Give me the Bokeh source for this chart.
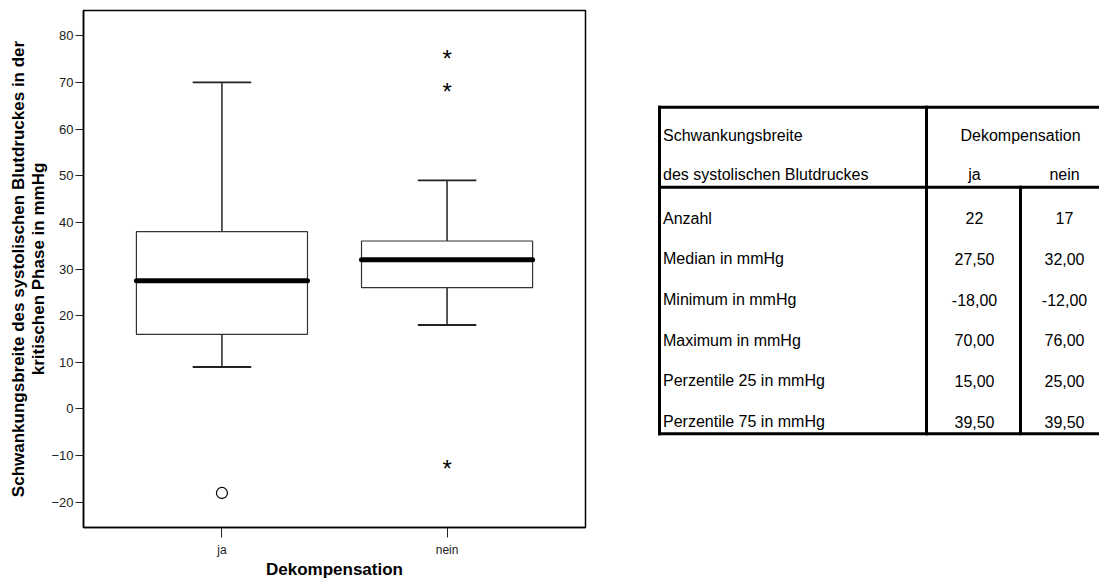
from bokeh.plotting import figure
from bokeh.layouts import row
from bokeh.models import Range1d, FactorRange, FixedTicker, ColumnDataSource
from bokeh.transform import dodge
from bokeh.core.properties import value
from bokeh.embed import file_html
from bokeh.resources import INLINE

# ---------------- data ----------------
categories = ["ja", "nein"]
q1 = [16, 26]
median = [27.5, 32]
q3 = [38, 36]
whisker_low = [9, 18]
whisker_high = [70, 49]
ja_outliers = [-18]            # circles
nein_extremes = [76, 69, -12]  # stars
y_ticks = [-20, -10, 0, 10, 20, 30, 40, 50, 60, 70, 80]

table_header_left = ["Schwankungsbreite", "des systolischen Blutdruckes"]
table_group = "Dekompensation"
table_row_labels = ["Anzahl", "Median in mmHg", "Minimum in mmHg",
                    "Maximum in mmHg", "Perzentile 25 in mmHg", "Perzentile 75 in mmHg"]
table_ja = ["22", "27,50", "-18,00", "70,00", "15,00", "39,50"]
table_nein = ["17", "32,00", "-12,00", "76,00", "25,00", "39,50"]

FONT = "Liberation Sans"

# ---------------- box plot ----------------
p = figure(width=620, height=581,
           x_range=FactorRange(factors=categories, range_padding=0.115,
                               range_padding_units="absolute"),
           y_range=Range1d(-25.4, 85.4),
           output_backend="svg", toolbar_location=None,
           min_border_left=83, min_border_right=35,
           min_border_top=10, min_border_bottom=53)

src = ColumnDataSource(dict(cat=categories, q1=q1, med=median, q3=q3,
                            lo=whisker_low, hi=whisker_high))

LC = "#222222"
# whiskers
p.segment(x0="cat", y0="q3", x1="cat", y1="hi", source=src, line_color=LC, line_width=1.5)
p.segment(x0="cat", y0="q1", x1="cat", y1="lo", source=src, line_color=LC, line_width=1.5)
p.segment(x0=dodge("cat", -0.13, range=p.x_range), y0="hi",
          x1=dodge("cat", 0.13, range=p.x_range), y1="hi",
          source=src, line_color=LC, line_width=1.8)
p.segment(x0=dodge("cat", -0.13, range=p.x_range), y0="lo",
          x1=dodge("cat", 0.13, range=p.x_range), y1="lo",
          source=src, line_color=LC, line_width=1.8)
# boxes
p.vbar(x="cat", width=0.76, bottom="q1", top="q3", source=src,
       fill_color="white", line_color="#333333", line_width=1.2)
# medians
p.segment(x0=dodge("cat", -0.38, range=p.x_range), y0="med",
          x1=dodge("cat", 0.38, range=p.x_range), y1="med",
          source=src, line_color="black", line_width=5, line_cap="round")

# outliers
p.scatter(x=["ja"] * len(ja_outliers), y=ja_outliers, marker="circle", size=11,
          fill_color="white", line_color="black", line_width=1.2)
star_fs = 24
p.text(x=["nein"] * len(nein_extremes), y=nein_extremes, text=["*"] * len(nein_extremes),
       text_font=value(FONT), text_font_size=f"{star_fs}px", text_align="center",
       text_baseline="alphabetic", y_offset=4, text_color="black")

p.xgrid.visible = False
p.ygrid.visible = False
p.outline_line_color = "black"
p.outline_line_width = 1.5

ya = p.yaxis[0]
ya.ticker = FixedTicker(ticks=y_ticks)
ya.major_tick_out = 8
ya.major_tick_in = 0
ya.minor_tick_out = 0
ya.minor_tick_in = 0
ya.major_tick_line_color = LC
ya.axis_line_color = "black"
ya.axis_line_width = 1.5
ya.major_label_text_font = FONT
ya.major_label_text_font_size = "13px"
ya.major_label_text_color = LC
ya.major_label_standoff = 2
ya.axis_label = "Schwankungsbreite des systolischen Blutdruckes in der\nkritischen Phase in mmHg"
ya.axis_label_text_font = FONT
ya.axis_label_text_font_style = "bold"
ya.axis_label_text_font_size = "17px"
ya.axis_label_text_line_height = 1.1
ya.axis_label_text_color = "black"
ya.axis_label_standoff = 0

xa = p.xaxis[0]
xa.major_tick_out = 10
xa.major_tick_in = 0
xa.major_tick_line_color = LC
xa.axis_line_color = "black"
xa.axis_line_width = 1.5
xa.major_label_text_font = FONT
xa.major_label_text_font_size = "12px"
xa.major_label_text_color = LC
xa.major_label_standoff = 5
xa.axis_label = "Dekompensation"
xa.axis_label_text_font = FONT
xa.axis_label_text_font_style = "bold"
xa.axis_label_text_font_size = "17px"
xa.axis_label_text_color = "black"
xa.axis_label_standoff = 0

# ---------------- table ----------------
# frame of this figure is aligned with the box-plot frame (image y 10..528)
t = figure(width=479, height=581, x_range=Range1d(620, 1099), y_range=Range1d(528, 10),
           output_backend="svg", toolbar_location=None,
           x_axis_location=None, y_axis_location=None,
           min_border_left=0, min_border_right=0, min_border_top=10, min_border_bottom=53)
t.xgrid.visible = False
t.ygrid.visible = False
t.outline_line_color = None

TL, TR, TT, TH, TB, C1, C2 = 659, 1099, 107, 187, 434, 926, 1020
t.segment(x0=[TL, TL, TL, TL, C1, C2], y0=[TT, TH, TB, TT, TT, TH],
          x1=[TR, TR, TR, TL, C1, C2], y1=[TT, TH, TB, TB, TB, TB],
          line_color="black", line_width=3, line_cap="square")

TX = 662.5
JA_X, NEIN_X = 974, 1064
HEAD_Y = [135, 174]
ROW_Y0, ROW_STEP = 218, 40.8
row_y = [ROW_Y0 + i * ROW_STEP for i in range(len(table_row_labels))]

tkw = dict(text_font=value(FONT), text_font_size="16px", text_color="black",
           text_baseline="middle")
t.text(x=[TX] * 2, y=HEAD_Y, text=table_header_left, text_align="left", **tkw)
t.text(x=[C2], y=[HEAD_Y[0]], text=[table_group], text_align="center", **tkw)
t.text(x=[JA_X, NEIN_X], y=[HEAD_Y[1]] * 2, text=categories, text_align="center", **tkw)
t.text(x=[TX] * len(row_y), y=row_y, text=table_row_labels, text_align="left", **tkw)
t.text(x=[JA_X] * len(row_y), y=row_y, text=table_ja, text_align="center", **tkw)
t.text(x=[NEIN_X] * len(row_y), y=row_y, text=table_nein, text_align="center", **tkw)

layout = row(p, t)
open("out.html", "w").write(file_html(layout, INLINE))
